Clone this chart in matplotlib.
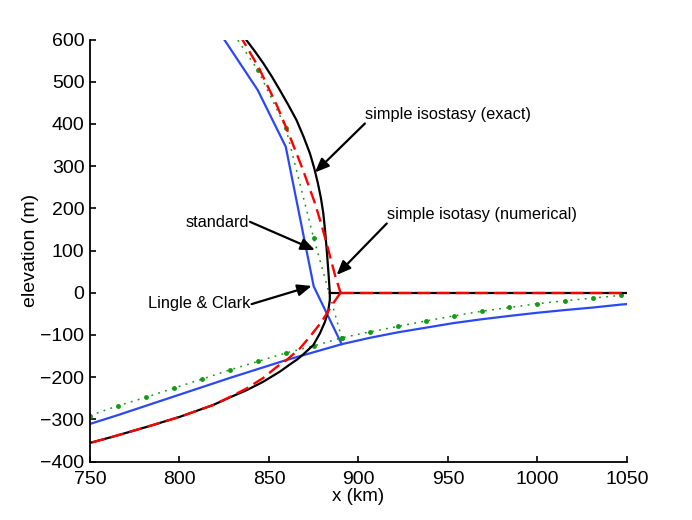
import matplotlib
matplotlib.use("Agg")
import matplotlib.pyplot as plt

plt.rcParams['font.family'] = ['Liberation Sans', 'DejaVu Sans']

# ---- data ----
# simple isostasy (exact): surface down to grounding line, then bed back to the left
exact_surf_x = [833.0, 836.6, 841.8, 846.8, 851.5, 856.1, 860.8, 865.4, 869.3, 872.9, 875.3,
                877.3, 879.0, 880.3, 881.3, 882.3, 883.2, 884.0]
exact_surf_y = [625, 603, 574, 544, 513, 480, 445, 409, 370, 330, 295,
                260, 225, 190, 150, 100, 50, 0]
exact_bed_x = [884.0, 884.0, 883.2, 881.3, 878.5, 874.8, 869.2, 865.5, 861.7, 856.1, 846.8,
               837.5, 828.2, 818.9, 800.3, 781.7, 763.0, 750.0]
exact_bed_y = [0, -17, -41, -69, -96, -124, -146, -159, -170, -187, -211,
               -231, -248, -266, -294, -318, -341, -356]
exact_float_x = [884.0, 1050.0]
exact_float_y = [0, 0]

# simple isostasy (numerical)
num_surf_x = [828.0, 834.7, 844.0, 854.3, 861.7, 869.0, 875.7, 879.4, 882.2, 887.0, 890.0]
num_surf_y = [650, 603, 536, 445, 370, 291, 212, 160, 117, 40, 0]
num_bed_x = [890.0, 885.9, 879.4, 872.9, 867.3, 860.0, 854.3, 846.8, 837.5, 828.2,
             818.9, 800.3, 781.7, 763.0, 750.0]
num_bed_y = [0, -25, -69, -104, -132, -159, -176, -202, -227, -247,
             -266, -294, -318, -341, -356]
num_float_x = [890.0, 1050.0]
num_float_y = [0, 0]

# model grid (km)
grid_x = [750.0, 765.625, 781.25, 796.875, 812.5, 828.125, 843.75, 859.375, 875.0, 890.625,
          906.25, 921.875, 937.5, 953.125, 968.75, 984.375, 1000.0, 1015.625, 1031.25,
          1046.875, 1062.5]

# Lingle & Clark
lc_surf_x = [812.5, 828.125, 843.75, 859.375, 875.0, 890.625]
lc_surf_y = [680, 580, 480, 346, 15, -122]
lc_bed_y = [-311, -290, -268, -246, -224, -202, -181, -160, -141, -122,
            -107, -94, -83, -72, -63, -55, -47.5, -41, -35, -28, -23]

# standard
std_surf_x = [812.5, 828.125, 843.75, 859.375, 875.0, 890.625]
std_surf_y = [720, 627, 528, 391, 129, -107]
std_bed_y = [-291, -268, -248, -226, -205, -183, -163, -143, -126, -107,
             -93, -80, -67, -55, -44, -35, -26, -19, -12.6, -6.2, 0]

xticks = [750, 800, 850, 900, 950, 1000, 1050]
yticks = [-400, -300, -200, -100, 0, 100, 200, 300, 400, 500, 600]

# ---- figure ----
fig = plt.figure(figsize=(6.92, 5.2), dpi=100)
ax = fig.add_axes([0.130, 0.1125, 0.776, 0.8115])

black = 'black'
red = '#ff0000'
blue = '#2a48f5'
green = '#149a14'

ax.plot(exact_surf_x, exact_surf_y, color=black, lw=1.6, zorder=3)
ax.plot(exact_bed_x, exact_bed_y, color=black, lw=1.6, zorder=3)
ax.plot(exact_float_x, exact_float_y, color=black, lw=1.6, zorder=3)

ax.plot(lc_surf_x, lc_surf_y, color=blue, lw=1.6, zorder=2)
ax.plot(grid_x, lc_bed_y, color=blue, lw=1.6, zorder=2)

ax.plot(std_surf_x, std_surf_y, color=green, lw=1.1, ls=(0, (1.2, 3.5)),
        marker='.', markersize=5, zorder=2.5)
ax.plot(grid_x, std_bed_y, color=green, lw=1.1, ls=(0, (1.2, 3.5)),
        marker='.', markersize=5, zorder=2.5)

dash = (0, (5.5, 2.6))
ax.plot(num_surf_x, num_surf_y, color=red, lw=1.7, ls=dash, zorder=4)
ax.plot(num_bed_x, num_bed_y, color=red, lw=1.7, ls=dash, zorder=4)
ax.plot(num_float_x, num_float_y, color=red, lw=1.7, ls=dash, zorder=4)

ax.set_xlim(750, 1050)
ax.set_ylim(-400, 600)
ax.set_xticks(xticks)
ax.set_yticks(yticks)
for s in ['top', 'right']:
    ax.spines[s].set_visible(False)
for s in ['left', 'bottom']:
    ax.spines[s].set_linewidth(1.3)
ax.tick_params(axis='both', direction='in', length=4, width=1.2, labelsize=14)
ax.tick_params(axis='x', pad=7)
ax.tick_params(axis='y', pad=4)
ax.set_xlabel('x (km)', fontsize=13.5, labelpad=0)
ax.set_ylabel('elevation (m)', fontsize=14, labelpad=1)

aprops = dict(arrowstyle='-|>,head_length=0.6,head_width=0.25', color='black',
              lw=1.6, mutation_scale=14, shrinkA=0, shrinkB=0)
fs = 11.8
# simple isostasy (exact)
ax.text(903.6, 422, 'simple isostasy (exact)', fontsize=fs, ha='left', va='center')
ax.annotate('', xy=(875.7, 285), xytext=(903.6, 401), arrowprops=aprops)
# simple isotasy (numerical)
ax.text(915.8, 186, 'simple isotasy (numerical)', fontsize=fs, ha='left', va='center')
ax.annotate('', xy=(887.8, 42), xytext=(915.8, 164), arrowprops=aprops)
# standard
ax.text(839.0, 166, 'standard', fontsize=fs, ha='right', va='center')
ax.annotate('', xy=(875.7, 101), xytext=(839.4, 168), arrowprops=aprops)
# Lingle & Clark
ax.text(839.8, -25, 'Lingle & Clark', fontsize=fs, ha='right', va='center')
ax.annotate('', xy=(873.9, 16), xytext=(840.3, -27), arrowprops=aprops)

fig.savefig('out.png', dpi=100)
